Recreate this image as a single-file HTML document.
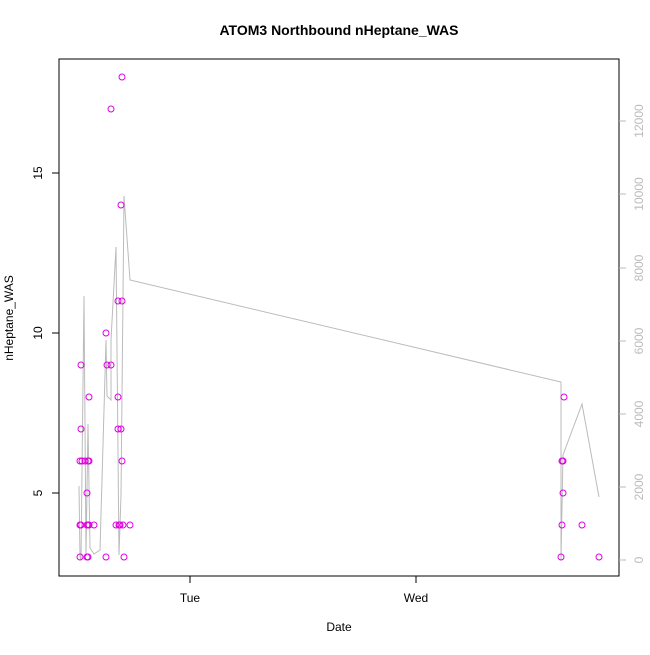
<!DOCTYPE html>
<html><head><style>body{margin:0;background:#fff}</style></head><body>
<svg width="650" height="650" xmlns="http://www.w3.org/2000/svg" font-family="Liberation Sans, sans-serif">
<rect width="650" height="650" fill="#fff"/>
<text x="339" y="35" font-size="14" font-weight="bold" text-anchor="middle">ATOM3 Northbound nHeptane_WAS</text>
<rect x="59" y="59" width="560" height="517" fill="none" stroke="#000"/>
<g stroke="#000"><line x1="59" y1="493" x2="52" y2="493"/><line x1="59" y1="333" x2="52" y2="333"/><line x1="59" y1="173" x2="52" y2="173"/>
<line x1="190" y1="576" x2="190" y2="583"/><line x1="416" y1="576" x2="416" y2="583"/></g>
<g font-size="12" text-anchor="middle">
<text transform="translate(42,493) rotate(-90)">5</text>
<text transform="translate(42,333) rotate(-90)">10</text>
<text transform="translate(42,173) rotate(-90)">15</text>
<text x="190" y="602">Tue</text><text x="416" y="602">Wed</text>
<text x="339" y="631">Date</text>
<text transform="translate(13,318) rotate(-90)">nHeptane_WAS</text>
</g>
<g stroke="#bbb"><line x1="619" y1="560" x2="626" y2="560"/><line x1="619" y1="487" x2="626" y2="487"/><line x1="619" y1="414" x2="626" y2="414"/><line x1="619" y1="341" x2="626" y2="341"/><line x1="619" y1="268" x2="626" y2="268"/><line x1="619" y1="194" x2="626" y2="194"/><line x1="619" y1="121" x2="626" y2="121"/></g>
<g font-size="12" fill="#bbb" text-anchor="middle">
<text transform="translate(643,560) rotate(-90)">0</text>
<text transform="translate(643,487) rotate(-90)">2000</text>
<text transform="translate(643,414) rotate(-90)">4000</text>
<text transform="translate(643,341) rotate(-90)">6000</text>
<text transform="translate(643,268) rotate(-90)">8000</text>
<text transform="translate(643,194) rotate(-90)">10000</text>
<text transform="translate(643,121) rotate(-90)">12000</text>
</g>
<polyline fill="none" stroke="#bbb" stroke-width="1" points="79,486 80,557 81,560 84,296 86,555 88,424 90,548 94,554 100,550 106,340 107,396 111,400 111,340 116,247 119,555 121,495 124,196 130,280 561,382 561,560 563,455 582,404 599,497"/>
<g fill="none" stroke="#e000e0" stroke-width="1">
<circle cx="80" cy="557" r="3"/><circle cx="80" cy="525" r="3"/><circle cx="80" cy="461" r="3"/><circle cx="81" cy="365" r="3"/><circle cx="81" cy="429" r="3"/><circle cx="81" cy="525" r="3"/><circle cx="82" cy="461" r="3"/><circle cx="85" cy="461" r="3"/>
<circle cx="87" cy="557" r="3"/><circle cx="87" cy="525" r="3"/><circle cx="87" cy="493" r="3"/><circle cx="88" cy="557" r="3"/><circle cx="88" cy="525" r="3"/><circle cx="88" cy="461" r="3"/><circle cx="89" cy="397" r="3"/><circle cx="89" cy="525" r="3"/><circle cx="89" cy="461" r="3"/><circle cx="94" cy="525" r="3"/>
<circle cx="106" cy="557" r="3"/><circle cx="106" cy="333" r="3"/><circle cx="107" cy="365" r="3"/><circle cx="111" cy="365" r="3"/><circle cx="111" cy="109" r="3"/>
<circle cx="116" cy="525" r="3"/><circle cx="118" cy="301" r="3"/><circle cx="118" cy="397" r="3"/><circle cx="118" cy="429" r="3"/><circle cx="119" cy="525" r="3"/><circle cx="120" cy="525" r="3"/><circle cx="121" cy="429" r="3"/><circle cx="121" cy="205" r="3"/><circle cx="122" cy="77" r="3"/><circle cx="122" cy="301" r="3"/><circle cx="122" cy="461" r="3"/><circle cx="123" cy="525" r="3"/><circle cx="124" cy="557" r="3"/><circle cx="130" cy="525" r="3"/>
<circle cx="561" cy="557" r="3"/><circle cx="562" cy="525" r="3"/><circle cx="562" cy="461" r="3"/><circle cx="563" cy="461" r="3"/><circle cx="564" cy="397" r="3"/><circle cx="563" cy="493" r="3"/><circle cx="582" cy="525" r="3"/><circle cx="599" cy="557" r="3"/>
</g>
</svg>
</body></html>
